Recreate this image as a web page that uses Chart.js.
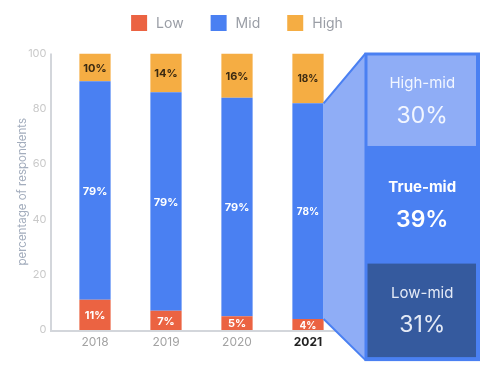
<!DOCTYPE html>
<html>
<head>
<meta charset="utf-8">
<script src="https://cdn.jsdelivr.net/npm/chart.js@4.4.1/dist/chart.umd.min.js"></script>
<style>
  html, body { margin: 0; padding: 0; background: #fff; }
</style>
</head>
<body>
<canvas id="myChart" width="500" height="377"></canvas>
<script>
// data
const years = ['2018', '2019', '2020', '2021'];
const lowValues = [11, 7, 5, 4];
const midValues = [79, 79, 79, 78];
const highValues = [10, 14, 16, 18];
const splitLabels = ['High-mid', 'True-mid', 'Low-mid'];
const splitValues = [30, 39, 31];
const splitIndex = 3; // the 2021 bar gets broken down on the right

// styles
const LOW = '#eb6342';
const MID = '#4a80f2';
const HIGH = '#f5ad43';
const FONT = 'Inter, "Open Sans", sans-serif';
const splitColors = ['#8fadf6', MID, '#355a9e'];
const splitText = ['#f2f6ff', '#ffffff', '#e4eaf6'];
const splitWeight = ['normal', 'bold', 'normal'];

// axis lines sit a little left of the bars, so draw them by hand
const axisLines = {
  id: 'axisLines',
  beforeDatasetsDraw(chart) {
    const { ctx, chartArea, scales } = chart;
    const x0 = chartArea.left - 8.5;
    const y0 = scales.y.getPixelForValue(0) + 1;
    ctx.save();
    ctx.strokeStyle = '#d3d6db';
    ctx.lineWidth = 2;
    ctx.beginPath();
    ctx.moveTo(x0, scales.y.getPixelForValue(100));
    ctx.lineTo(x0, y0);
    ctx.lineTo(chartArea.right, y0);
    ctx.stroke();
    ctx.restore();
  },
};

// value labels inside each segment
const barLabels = {
  id: 'barLabels',
  afterDatasetsDraw(chart) {
    const { ctx } = chart;
    ctx.save();
    ctx.textAlign = 'center';
    ctx.textBaseline = 'middle';
    chart.data.datasets.forEach((ds, i) => {
      chart.getDatasetMeta(i).data.forEach((bar, j) => {
        const size = j === splitIndex ? 10 : 11;
        ctx.font = `bold ${size}px ${FONT}`;
        ctx.fillStyle = ds.label === 'High' ? '#3b2a12' : '#fff';
        ctx.fillText(ds.data[j] + '%', bar.x, (bar.y + bar.base) / 2 + 1);
      });
    });
    ctx.restore();
  },
};

// the zoomed-in breakdown of the 2021 "Mid" segment
const midBreakdown = {
  id: 'midBreakdown',
  afterDraw(chart) {
    const { ctx, chartArea } = chart;
    const bar = chart.getDatasetMeta(1).data[splitIndex];
    const bx = bar.x + bar.width / 2;
    const pl = chartArea.right + 22;
    const pr = chart.width - 21;
    const pt = chartArea.top;
    const pb = chartArea.bottom + 30;

    ctx.save();
    // connector
    ctx.fillStyle = splitColors[0];
    ctx.beginPath();
    ctx.moveTo(bx, bar.y);
    ctx.lineTo(pl, pt);
    ctx.lineTo(pl, pb);
    ctx.lineTo(bx, bar.base);
    ctx.closePath();
    ctx.fill();
    ctx.strokeStyle = MID;
    ctx.lineWidth = 2;
    ctx.beginPath();
    ctx.moveTo(bx, bar.y);
    ctx.lineTo(pl, pt);
    ctx.moveTo(bx, bar.base);
    ctx.lineTo(pl, pb);
    ctx.stroke();

    // panel
    ctx.fillStyle = MID;
    ctx.fillRect(pl - 1, pt - 1, pr - pl + 2, pb - pt + 2);
    const total = splitValues.reduce((a, b) => a + b, 0);
    const innerTop = pt + 2;
    const innerH = pb - 3 - innerTop;
    let y = innerTop;
    ctx.textAlign = 'center';
    ctx.textBaseline = 'middle';
    const cx = (pl + pr) / 2;
    splitValues.forEach((v, i) => {
      const h = innerH * v / total;
      if (splitColors[i] !== MID) {
        ctx.fillStyle = splitColors[i];
        ctx.fillRect(pl + 2, y, pr - pl - 5, h);
      }
      const cy = y + h / 2;
      ctx.fillStyle = splitText[i];
      ctx.font = `${splitWeight[i]} 15px ${FONT}`;
      ctx.fillText(splitLabels[i], cx, cy - 17);
      ctx.font = `${splitWeight[i] === 'bold' ? '600' : 'normal'} 23px ${FONT}`;
      ctx.fillText(v + '%', cx, cy + 15);
      y += h;
    });
    ctx.restore();
  },
};

// legend across the top
const topLegend = {
  id: 'topLegend',
  afterDraw(chart) {
    const { ctx } = chart;
    ctx.save();
    ctx.font = `14px ${FONT}`;
    ctx.textBaseline = 'middle';
    const items = chart.data.datasets.map((ds) => ({
      label: ds.label,
      color: ds.backgroundColor,
      w: 16 + 9 + ctx.measureText(ds.label).width,
    }));
    const gap = 27;
    const total = items.reduce((s, it) => s + it.w, 0) + gap * (items.length - 1);
    let x = 237 - total / 2;
    items.forEach((it) => {
      ctx.fillStyle = it.color;
      ctx.fillRect(x, 15, 16, 16);
      ctx.fillStyle = '#9a9ea6';
      ctx.fillText(it.label, x + 25, 23.5);
      x += it.w + gap;
    });
    ctx.restore();
  },
};

const chart = new Chart(document.getElementById('myChart').getContext('2d'), {
  type: 'bar',
  data: {
    labels: years,
    datasets: [
      { label: 'Low', data: lowValues, backgroundColor: LOW },
      { label: 'Mid', data: midValues, backgroundColor: MID },
      { label: 'High', data: highValues, backgroundColor: HIGH },
    ],
  },
  options: {
    responsive: false,
    animation: false,
    categoryPercentage: 1,
    barPercentage: 0.44,
    layout: { padding: { top: 53.5, right: 156.5, bottom: 22.5, left: 0 } },
    plugins: {
      legend: { display: false },
      tooltip: { enabled: false },
    },
    scales: {
      x: {
        stacked: true,
        grid: { display: false, drawTicks: false },
        border: { display: false },
        ticks: {
          padding: 5,
          color: (c) => (c.index === splitIndex ? '#222' : '#a3a3a3'),
          font: (c) => ({ size: 12, family: FONT, weight: c.index === splitIndex ? 'bold' : 'normal' }),
        },
      },
      y: {
        stacked: true,
        min: 0,
        max: 100,
        ticks: { stepSize: 20, padding: 13, color: '#c9c9c9', font: { size: 11, family: FONT } },
        grid: { display: false, drawTicks: false },
        border: { display: false },
        title: {
          display: true,
          text: 'percentage of respondents',
          color: '#a3adbd',
          font: { size: 11.5, family: FONT },
          padding: { top: 16, bottom: 0 },
        },
        afterFit(scale) { scale.width = 59.5; },
      },
    },
  },
  plugins: [axisLines, barLabels, midBreakdown, topLegend],
});
</script>
</body>
</html>
